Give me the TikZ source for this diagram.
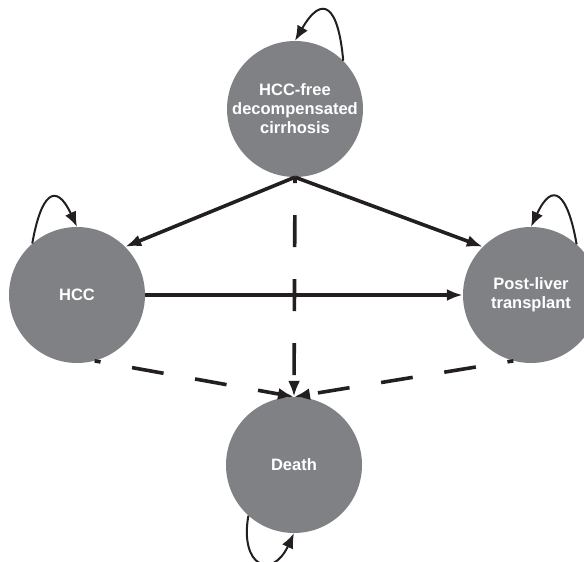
\documentclass[tikz,border=0pt]{standalone}
\usepackage{fontspec}
\setmainfont{Liberation Sans}
\usetikzlibrary{arrows.meta}
\definecolor{stategray}{RGB}{128,129,133}
\definecolor{inkblack}{RGB}{35,31,32}
\begin{document}
\begin{tikzpicture}[x=1pt,y=1pt,
  state/.style={circle,fill=stategray,minimum size=136pt,inner sep=0pt,
    text=white,font=\fontsize{16.5}{19}\selectfont\bfseries,align=center},
  flow/.style={draw=inkblack,line width=3.6pt,-{Latex[length=16pt,width=12pt]}},
  exit/.style={flow,dash pattern=on 32pt off 32pt,dash phase=26pt},
  selfloop/.style={draw=inkblack,line width=2pt,looseness=2.7,
    -{Latex[length=15pt,width=12pt]}}]
\useasboundingbox (0,0) rectangle (584,562);

\node[state] (free)  at (295,453) {HCC-free\\decompensated\\cirrhosis};
\node[state] (hcc)   at (77,267)  {HCC};
\node[state] (plt)   at (531,267) {Post-liver\\transplant};
\node[state] (death) at (294,97)  {Death};

\draw[flow] (free.south) -- (hcc.45);
\draw[flow] (free.south) -- (plt.135);
\draw[flow] (hcc.east) -- (plt.west);

\draw[exit] (free.south) -- (death.north);
\draw[exit] (hcc.-75) -- (death.north);
\draw[exit] (plt.-105) -- (death.north);

\draw[selfloop] (free.45) to[out=95,in=60] (free.90);
\draw[selfloop] (hcc.131) to[out=80,in=115] (hcc.90);
\draw[selfloop] (plt.48) to[out=100,in=65] (plt.90);
\draw[selfloop] (death.-132) to[out=-100,in=-115] (death.-90);
\end{tikzpicture}
\end{document}
